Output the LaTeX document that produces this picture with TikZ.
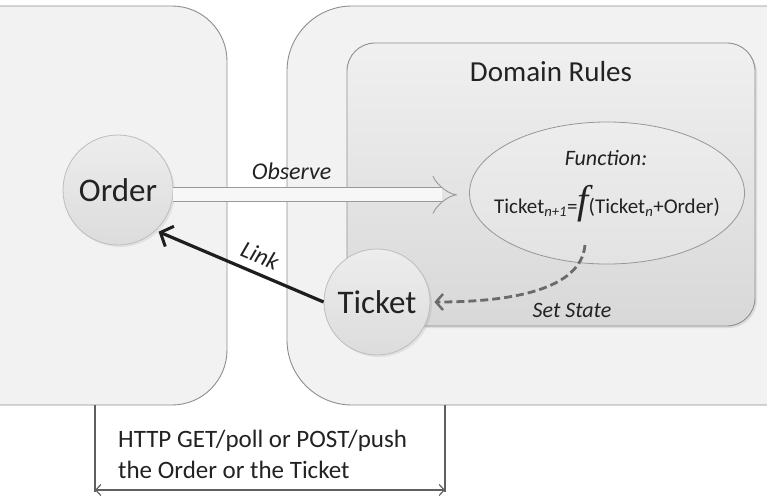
\documentclass[tikz,border=0pt]{standalone}
\usepackage{fontspec}
\setmainfont{Carlito}
\newfontfamily\funcfont{Liberation Serif}
\usepackage{tikz}
\usetikzlibrary{
	positioning,
	arrows.meta,
	shapes.geometric,
	shadows
}

\definecolor{panelfill}{HTML}{F2F2F2}
\definecolor{paneledge}{HTML}{8E8E8E}
\definecolor{ruletop}{HTML}{F0F0F0}
\definecolor{rulebot}{HTML}{D8D8D8}
\definecolor{circedge}{HTML}{BDBDBD}
\definecolor{circtop}{HTML}{EDEDED}
\definecolor{circbot}{HTML}{DCDCDC}
\definecolor{linkink}{HTML}{1E1E1E}
\definecolor{stateink}{HTML}{6A6A6A}
\definecolor{textink}{HTML}{222222}

\begin{document}
\begin{tikzpicture}[x=1pt, y=-1pt,
		panel/.style={draw=paneledge, line width=0.9pt, fill=panelfill},
		rulesbox/.style={draw=paneledge, line width=0.9pt, top color=ruletop, bottom color=rulebot,
			rounded corners=28pt, drop shadow={opacity=0.18, shadow xshift=2pt, shadow yshift=-2pt}},
		entity/.style={circle, draw=circedge, line width=0.8pt, top color=circtop, bottom color=circbot,
			inner sep=0pt, text=textink, font=\fontsize{33}{33}\selectfont,
			drop shadow={opacity=0.15, shadow xshift=2pt, shadow yshift=-2pt}},
		funcbox/.style={ellipse, draw=circedge!80!black, line width=0.8pt, top color=circtop, bottom color=circbot!60!circtop,
			minimum width=275pt, minimum height=142pt, inner sep=0pt},
		lbl/.style={inner sep=0pt, text=textink},
		observe/.style={draw=gray!80, line width=0.9pt, double=white!94!gray, double distance=13pt,
			-{Implies[length=11pt, width=30pt]}, shorten >=12pt},
		linkarrow/.style={draw=linkink, line width=3.2pt, {Straight Barb[length=10pt, width=22pt, line width=3pt]}-, shorten <=3pt},
		statearrow/.style={draw=stateink, line width=2.8pt, dash pattern=on 8pt off 4pt,
			-{Straight Barb[length=7pt, width=16pt, line width=2.4pt]}, shorten >=4pt},
		dimline/.style={draw=gray!75!black, line width=1.2pt},
		dimarrow/.style={draw=gray!75!black, line width=1.2pt,
			{Straight Barb[length=5pt, width=11pt]}-{Straight Barb[length=5pt, width=11pt]}}
	]
	\useasboundingbox (0,0) rectangle (767,496);
	\fill[white] (0,0) rectangle (767,496);

	\draw[panel, rounded corners=55pt] (-80,6) rectangle (227,405);
	\draw[panel, rounded corners=65pt] (287,6) rectangle (860,405);
	\draw[rulesbox] (347,43) rectangle (755,326);

	\node[lbl, font=\fontsize{29}{29}\selectfont] (rules) at (551,72) {Domain Rules};

	\node[funcbox] (func) at (607,193) {};
	\node[lbl, font=\fontsize{22}{22}\selectfont\itshape] (functitle) at (606,158) {Function:};
	\node[lbl, anchor=base, font=\fontsize{21}{21}\selectfont] (formula) at (607,213)
		{Ticket\textsubscript{\itshape n+1}={\funcfont\fontsize{40}{40}\selectfont\itshape f}(Ticket\textsubscript{\itshape n}+Order)};

	\node[entity, minimum size=110pt] (order) at (118,190) {Order};
	\node[entity, minimum size=106pt] (ticket) at (377,302) {Ticket};

	\draw[observe] (order.-5) -- node[lbl, pos=0.4, above=15pt, font=\fontsize{24}{24}\selectfont\itshape] (obslabel) {Observe} (order.-5 -| func.west);

	\draw[linkarrow] (order.-47) -- node[lbl, pos=0.58, sloped, above=8pt, font=\fontsize{24}{24}\selectfont\itshape] (linklabel) {Link} (ticket.west);

	\coordinate (fstart) at (585,245);
	\draw[statearrow] (fstart) .. controls +(-4,45) and +(80,0) .. (ticket.east);
	\node[lbl, font=\fontsize{22}{22}\selectfont\itshape] (statelabel) at (572,310) {Set State};

	\coordinate (dimlt) at (95,405);
	\coordinate (dimlb) at (95,492);
	\coordinate (dimrt) at (445,405);
	\coordinate (dimrb) at (445,492);
	\draw[dimline] (dimlt) -- (dimlb);
	\draw[dimline] (dimrt) -- (dimrb);
	\draw[dimarrow] ([yshift=2pt]dimlb) -- ([yshift=2pt]dimrb);

	\node[lbl, anchor=north west, align=left, font=\fontsize{25}{31}\selectfont] (http) at (118,430)
		{HTTP GET/poll or POST/push\\the Order or the Ticket};
\end{tikzpicture}
\end{document}
